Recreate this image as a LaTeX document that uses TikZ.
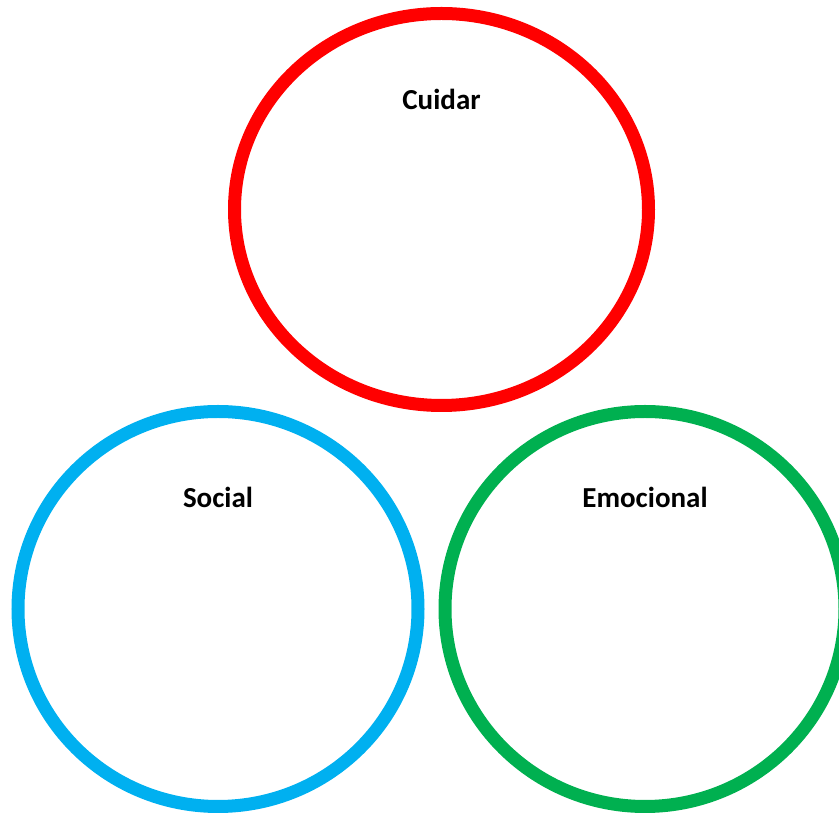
\documentclass[tikz,border=0pt]{standalone}
\usepackage{fontspec}
\setmainfont{Carlito}
\usetikzlibrary{shapes.geometric}
\usetikzlibrary{positioning}

\definecolor{ringred}{RGB}{255,0,0}
\definecolor{ringblue}{RGB}{0,176,240}
\definecolor{ringgreen}{RGB}{0,176,80}

\begin{document}
\begin{tikzpicture}[x=1pt, y=1pt,
  ring/.style = {ellipse, draw, line width=13pt, inner sep=0pt},
  lbl/.style = {font=\fontsize{29}{33}\selectfont\bfseries, inner sep=0pt}]
  \useasboundingbox (0,0) rectangle (839,814);
  \node[ring, ringred, minimum width=414pt, minimum height=392pt] (cuidar) at (441.5,604.5) {};
  \node[ring, ringblue, minimum width=400pt, minimum height=395pt] (social) at (218,205) {};
  \node[ring, ringgreen, minimum width=400pt, minimum height=395pt] (emocional) at (645,205) {};
  \node[lbl] (cuidartxt) at ([yshift=-92pt]cuidar.north) {Cuidar};
  \node[lbl] (socialtxt) at ([yshift=-92pt]social.north) {Social};
  \node[lbl] (emocionaltxt) at ([yshift=-92pt]emocional.north) {Emocional};
\end{tikzpicture}
\end{document}
